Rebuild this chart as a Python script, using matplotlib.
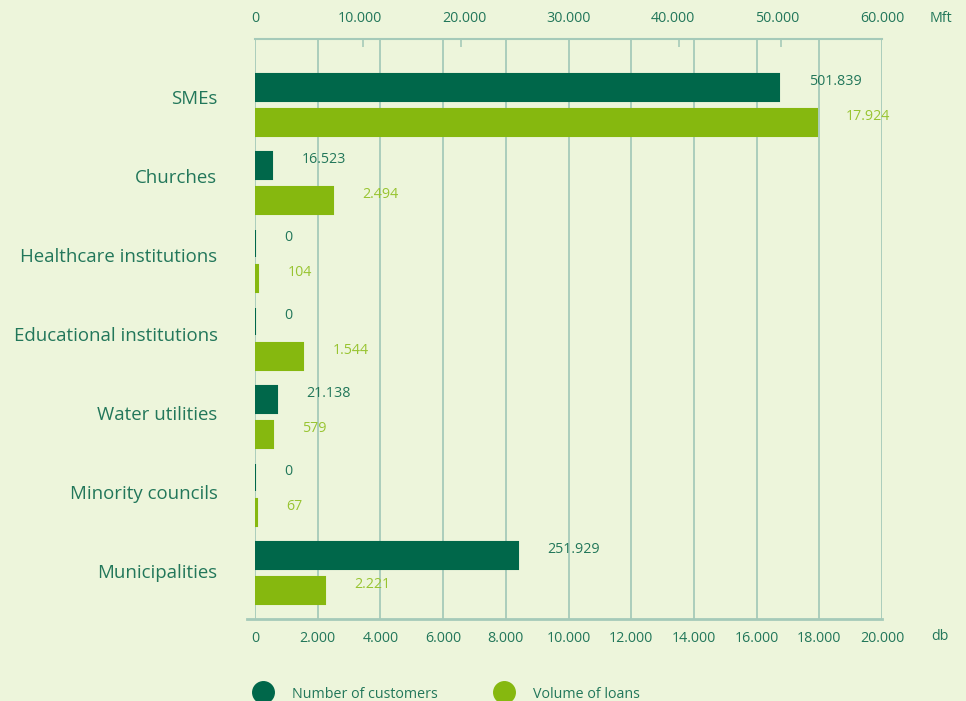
import matplotlib
matplotlib.use("Agg")
import matplotlib.pyplot as plt
from matplotlib.ticker import FixedLocator

categories = ["SMEs", "Churches", "Healthcare institutions", "Educational institutions",
              "Water utilities", "Minority councils", "Municipalities"]
customers = [501839, 16523, 0, 0, 21138, 0, 251929]      # Number of customers (top axis)
loans = [17924, 2494, 104, 1544, 579, 67, 2221]            # Volume of loans (bottom axis)
customer_labels = ["501.839", "16.523", "0", "0", "21.138", "0", "251.929"]
loan_labels = ["17.924", "2.494", "104", "1.544", "579", "67", "2.221"]
bottom_ticks = [0, 2000, 4000, 6000, 8000, 10000, 12000, 14000, 16000, 18000, 20000]
bottom_tick_labels = ["0", "2.000", "4.000", "6.000", "8.000", "10.000", "12.000",
                      "14.000", "16.000", "18.000", "20.000"]
top_ticks = [0, 100000, 200000, 300000, 400000, 500000, 600000]
top_tick_labels = ["0", "10.000", "20.000", "30.000", "40.000", "50.000", "60.000"]

BG = "#EDF5DB"
DARK = "#00674A"
LIGHT = "#86B80F"
TXT = "#22775A"
LTXT = "#98C431"
GRID = "#A5CAB9"

plt.rcParams["font.family"] = ["Open Sans", "DejaVu Sans"]

fig = plt.figure(figsize=(9.66, 7.01), dpi=100, facecolor=BG)
ax = fig.add_axes([255/966, 82/701, 627/966, 580/701])
ax.set_facecolor(BG)
ax2 = ax.twiny()

n = len(categories)
ys = list(range(n))
h = 0.346
off = 0.224

ax.barh([y + off for y in ys], loans, height=h, color=LIGHT, edgecolor=LIGHT,
        linewidth=1.5, zorder=3)
ax2.barh([y - off for y in ys], customers, height=h, color=DARK, edgecolor=DARK,
         linewidth=1.5, zorder=3)

ax.set_xlim(0, 20000)
ax2.set_xlim(0, 600000)
ax.set_ylim(6.59, -0.846)
ax2.set_ylim(6.59, -0.846)

# value labels
for y, v, lab in zip(ys, loans, loan_labels):
    ax.annotate(lab, (v, y + off), xytext=(21, 4), textcoords="offset points",
                ha="left", va="center", color=LTXT, fontsize=10.3)
for y, v, lab in zip(ys, customers, customer_labels):
    ax2.annotate(lab, (v, y - off), xytext=(21, 4), textcoords="offset points",
                 ha="left", va="center", color=TXT, fontsize=10.3)

# category labels
ax.set_yticks(ys)
ax.set_yticklabels([])
for i, (y, c) in enumerate(zip(ys, categories)):
    ax.annotate(c, (0, y), xycoords=("axes fraction", "data"),
                xytext=(-27, (6 - i) * 0.72),
                textcoords="offset points", ha="right", va="center",
                color=TXT, fontsize=13.4)
ax.tick_params(axis="y", length=0)
ax2.tick_params(axis="y", length=0)

# bottom axis
ax.set_xticks(bottom_ticks)
ax.set_xticklabels(bottom_tick_labels)
ax.tick_params(axis="x", length=0, pad=9, labelsize=10.3, labelcolor=TXT)
ax.grid(axis="x", color=GRID, linewidth=1.3, zorder=0)
ax.set_axisbelow(True)

# top axis
ax2.xaxis.set_major_locator(FixedLocator(top_ticks))
ax2.set_xticklabels(top_tick_labels)
ax2.xaxis.set_minor_locator(FixedLocator([103000, 197000, 406000, 503000]))
ax2.tick_params(axis="x", which="major", length=0, pad=9, labelsize=10.3, labelcolor=TXT)
ax2.tick_params(axis="x", which="minor", direction="in", length=6, width=1.2, color=GRID)

for a in (ax, ax2):
    for s in ("left", "right"):
        a.spines[s].set_visible(False)
ax.spines["top"].set_visible(False)
ax2.spines["bottom"].set_visible(False)
ax.spines["bottom"].set_color(GRID)
ax.spines["bottom"].set_linewidth(2)
ax2.spines["top"].set_color(GRID)
ax2.spines["top"].set_linewidth(1.5)
ax.spines["bottom"].set_bounds(-260, 20000)

ax.text(1.092, -0.031, "db", transform=ax.transAxes, ha="center", va="center",
        color=TXT, fontsize=10.3)
ax.text(1.094, 1.036, "Mft", transform=ax.transAxes, ha="center", va="center",
        color=TXT, fontsize=10.3)

# legend
handles = [plt.Line2D([], [], marker="o", linestyle="", markersize=15.5, color=DARK),
           plt.Line2D([], [], marker="o", linestyle="", markersize=15.5, color=LIGHT)]
fig.legend(handles, ["Number of customers", "Volume of loans"], ncol=2,
           loc="center left", bbox_to_anchor=(249/966, 7/701), frameon=False,
           handletextpad=1.5, columnspacing=4.15, labelcolor=TXT, fontsize=10.3,
           handlelength=1.0, borderpad=0)

fig.savefig("out.png", dpi=100, facecolor=BG)
